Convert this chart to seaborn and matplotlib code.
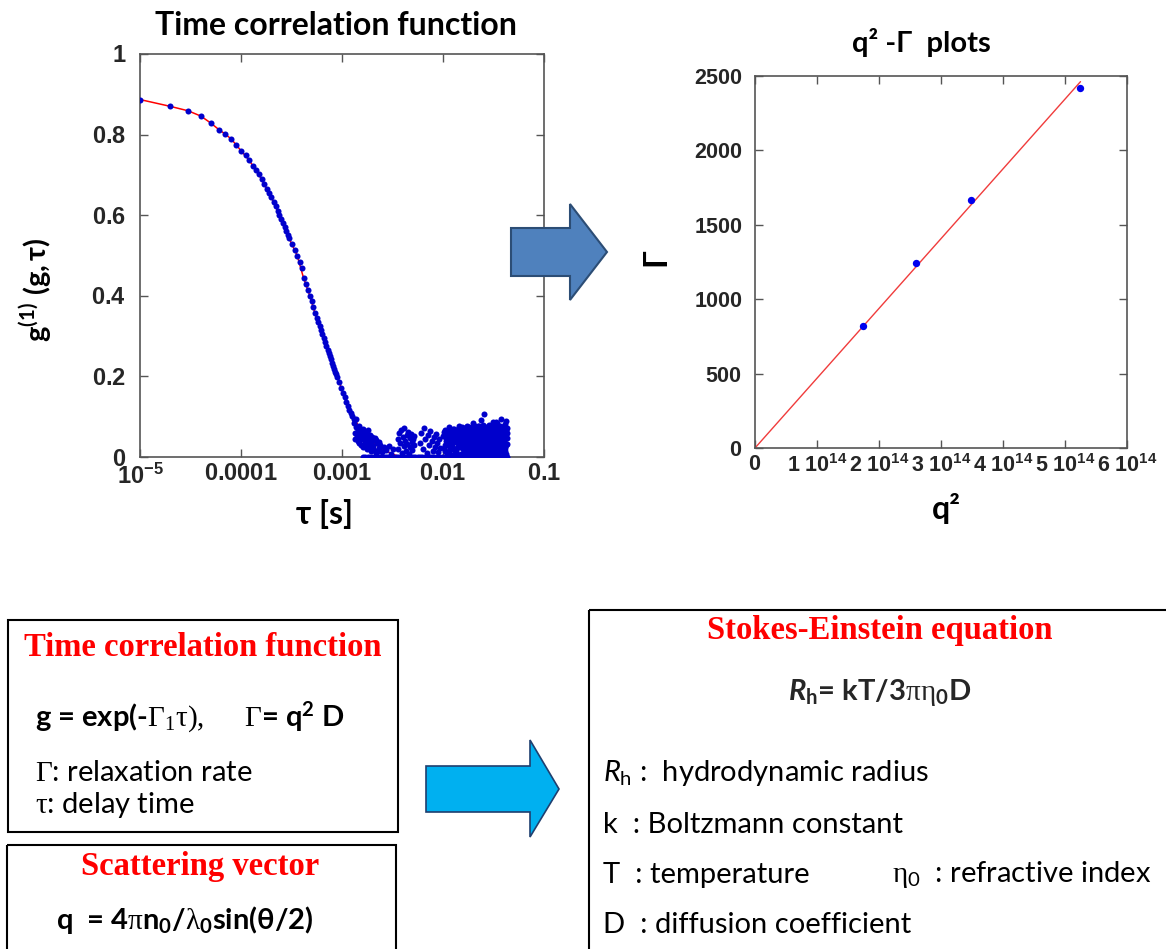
import numpy as np
import seaborn as sns
import matplotlib.pyplot as plt
from matplotlib.patches import Rectangle, Polygon

W, H = 1166, 949

# ---- time correlation function ----
tau_main = [1.0e-5, 2.0e-5, 3.0e-5, 4.0e-5, 5.0e-5, 6.1e-5, 7.0e-5, 7.9e-5, 9.0e-5, 1.0e-4,
            1.11e-4, 1.2e-4, 1.3e-4, 1.4e-4, 1.5e-4, 1.6e-4, 1.7e-4, 1.8e-4, 1.9e-4, 2.0e-4,
            2.1e-4, 2.2e-4, 2.3e-4, 2.4e-4, 2.5e-4, 2.6e-4, 2.7e-4, 2.8e-4, 2.9e-4, 3.0e-4,
            3.2e-4, 3.4e-4, 3.6e-4, 3.8e-4, 4.0e-4, 4.2e-4, 4.4e-4, 4.6e-4, 4.8e-4, 5.0e-4,
            5.2e-4, 5.4e-4, 5.6e-4, 5.8e-4, 6.0e-4, 6.2e-4, 6.4e-4, 6.6e-4, 6.8e-4, 7.0e-4,
            7.2e-4, 7.4e-4, 7.6e-4, 7.8e-4, 8.0e-4, 8.2e-4, 8.4e-4, 8.6e-4, 8.8e-4, 9.0e-4,
            9.4e-4, 9.8e-4, 1.02e-3, 1.06e-3, 1.10e-3, 1.14e-3, 1.18e-3, 1.22e-3, 1.26e-3, 1.30e-3]
g_main = [.887, .870, .859, .846, .829, .812, .801, .790, .774, .760,
          .749, .737, .723, .712, .701, .689, .678, .665, .655, .644,
          .633, .623, .611, .600, .590, .580, .570, .560, .550, .543,
          .528, .514, .500, .484, .468, .445, .430, .415, .400, .386,
          .372, .358, .345, .335, .325, .314, .304, .295, .285, .275,
          .266, .258, .250, .242, .234, .226, .219, .212, .205, .198,
          .185, .172, .160, .148, .137, .127, .117, .108, .102, .095]

# noisy tail, tau in ms
tau_tail_ms = [1.32, 1.35, 1.38, 1.40, 1.43, 1.45, 1.48, 1.50, 1.53, 1.55, 1.58, 1.60, 1.63, 1.66, 1.70,
               1.73, 1.77, 1.80, 1.85, 1.90, 1.95, 2.00, 2.05, 2.10, 2.15, 2.20, 2.30, 2.40, 2.50, 2.60,
               2.75, 2.90, 3.05, 3.20,
               1.34, 1.37, 1.42, 1.47, 1.52, 1.57, 1.62, 1.68, 1.75, 1.82, 1.88, 1.98, 2.08, 2.18, 2.25, 2.35,
               3.55, 3.62, 3.70, 3.78, 3.85, 3.92, 4.00, 4.08, 4.15, 4.22, 4.30, 4.38, 4.45, 4.52, 4.60,
               4.68, 4.75, 4.82, 4.90, 4.98, 5.05, 5.12, 5.20,
               5.9, 6.1, 6.3, 6.5, 6.7, 6.9, 7.1, 7.3, 7.5, 7.7, 7.9, 8.1, 8.3, 8.5, 8.7, 8.9, 9.1, 9.3,
               10.2, 10.5, 10.8, 11.1, 11.4, 11.7, 12.0, 12.3, 12.6, 12.9, 13.2, 13.5, 13.8, 14.1, 14.4,
               14.7, 15.0, 15.3, 15.6, 15.9, 16.2, 16.5, 16.8, 17.1, 17.4, 17.7, 18.0, 18.3, 18.6, 18.9,
               19.2, 19.5, 19.8, 20.1, 20.4, 20.7, 21.0, 21.3, 21.6, 21.9, 22.2, 22.5, 22.8, 23.1, 23.4,
               23.7, 24.0, 24.3, 24.6, 24.9, 25.2, 25.5, 25.8, 26.1, 26.4, 26.7, 27.0, 27.3, 27.6, 27.9,
               28.2, 28.5, 28.8, 29.1, 29.4, 29.7, 30.0, 30.3, 30.6, 30.9, 31.2, 31.5, 31.8, 32.1, 32.4,
               32.7, 33.0, 33.3, 33.6, 33.9, 34.2, 34.5, 34.8, 35.1, 35.4, 35.7, 36.0, 36.3, 36.6, 36.9,
               37.2, 37.5, 37.8, 38.1, 38.4, 38.7, 39.0, 39.3, 39.6, 39.9, 40.2, 40.5, 40.8, 41.1, 41.4,
               41.7, 42.0, 42.3, 42.6, 42.9]
g_tail = [.085, .060, .075, .050, .068, .040, .078, .055, .030, .062, .045, .070, .025, .052, .038,
          .060, .020, .045, .032, .055, .015, .040, .028, .048, .010, .035, .022, .030, .012, .025,
          .018, .028, .008, .020,
          .045, .095, .058, .035, .070, .050, .065, .030, .048, .068, .025, .050, .018, .042, .015, .038,
          .045, .020, .060, .035, .068, .010, .050, .028, .071, .040, .015, .055, .032, .062, .008,
          .048, .025, .058, .038, .018, .045, .030, .052,
          .035, .060, .020, .072, .045, .010, .055, .030, .065, .040, .015, .050, .025, .058, .035, .012, .045, .022,
          .062, .015, .048, .030, .070, .005, .055, .038, .022, .066, .044, .010, .058, .034, .072,
          .026, .050, .003, .064, .040, .018, .056, .032, .068, .012, .046, .074, .028, .060, .036,
          .008, .052, .085, .042, .020, .066, .030, .058, .014, .048, .076, .024, .062, .038, .006,
          .054, .092, .034, .068, .016, .044, .107, .028, .060, .050, .010, .072, .036, .064, .022,
          .046, .080, .030, .056, .004, .070, .040, .062, .018, .052, .088, .026, .058, .034, .074,
          .012, .048, .066, .038, .020, .060, .084, .030, .054, .008, .070, .042, .064, .024, .050,
          .094, .034, .058, .016, .072, .044, .062, .028, .052, .010, .068, .038, .082, .056, .022,
          .066, .046, .090, .032, .060]

# further passes through the dense block beyond 10 ms
tau_dense_ms = [10.35, 10.65, 10.95, 11.25, 11.55, 11.85, 12.15, 12.45, 12.75, 13.05, 13.35, 13.65,
                13.95, 14.25, 14.55, 14.85, 15.15, 15.45, 15.75, 16.05, 16.35, 16.65, 16.95, 17.25,
                17.55, 17.85, 18.15, 18.45, 18.75, 19.05, 19.35, 19.65, 19.95, 20.25, 20.55, 20.85,
                21.15, 21.45, 21.75, 22.05, 22.35, 22.65, 22.95, 23.25, 23.55, 23.85, 24.15, 24.45,
                24.75, 25.05, 25.35, 25.65, 25.95, 26.25, 26.55, 26.85, 27.15, 27.45, 27.75, 28.05,
                28.35, 28.65, 28.95, 29.25, 29.55, 29.85, 30.15, 30.45, 30.75, 31.05, 31.35, 31.65,
                31.95, 32.25, 32.55, 32.85, 33.15, 33.45, 33.75, 34.05, 34.35, 34.65, 34.95, 35.25,
                35.55, 35.85, 36.15, 36.45, 36.75, 37.05, 37.35, 37.65, 37.95, 38.25, 38.55, 38.85,
                39.15, 39.45, 39.75, 40.05, 40.35, 40.65, 40.95, 41.25, 41.55, 41.85, 42.15, 42.45,
                42.75, 43.05,
                10.05, 10.25, 10.45, 10.65, 10.85, 11.05, 11.25, 11.45, 11.65, 11.85, 12.05, 12.25,
                12.45, 12.65, 12.85, 13.05, 13.25, 13.45, 13.65, 13.85, 14.05, 14.25, 14.45, 14.65,
                14.85, 15.05, 15.25, 15.45, 15.65, 15.85, 16.05, 16.25, 16.45, 16.65, 16.85, 17.05,
                17.25, 17.45, 17.65, 17.85, 18.05, 18.25, 18.45, 18.65, 18.85, 19.05, 19.25, 19.45,
                19.65, 19.85, 20.05, 20.25, 20.45, 20.65, 20.85, 21.05, 21.25, 21.45, 21.65, 21.85,
                22.05, 22.25, 22.45, 22.65, 22.85, 23.05, 23.25, 23.45, 23.65, 23.85, 24.05, 24.25,
                24.45, 24.65, 24.85]
g_dense = [.030, .058, .012, .044, .066, .022, .036, .070, .050, .016,
           .040, .064, .026, .048, .004, .060, .034, .074, .020, .052,
           .068, .038, .006, .056, .028, .046, .018, .064, .042, .072,
           .024, .060, .036, .010, .054, .078, .032, .046, .068, .026,
           .058, .004, .050, .070, .030, .042, .014, .062, .080, .040,
           .066, .020, .054, .008, .074, .034, .048, .060, .012, .070,
           .036, .058, .020, .046, .078, .028, .054, .010, .066, .044,
           .024, .072, .050, .006, .062, .040, .086, .030, .056, .016,
           .044, .070, .010, .064, .036, .052, .024, .078, .046, .018,
           .058, .072, .032, .066, .040, .012, .056, .036, .076, .026,
           .042, .064, .016, .052, .070, .030, .058, .008, .048, .072,
           .052, .022, .068, .040, .010, .060, .032, .074, .046, .018,
           .064, .028, .056, .006, .070, .038, .050, .014, .066, .042,
           .024, .058, .076, .034, .048, .008, .062, .030, .054, .072,
           .020, .044, .066, .012, .058, .036, .078, .026, .050, .064,
           .016, .040, .070, .030, .056, .004, .062, .046, .074, .022,
           .036, .068, .052, .010, .060, .028, .044, .072, .018, .056,
           .034, .064, .008, .048, .076, .026, .058, .040, .066, .014,
           .050, .070, .032, .062, .044]

# points sitting on the zero line
tau_base_ms = [1.6, 1.7, 1.8, 1.9, 2.0, 2.1, 2.2, 2.35, 2.5, 2.65, 2.8, 3.0, 3.2, 3.4, 3.6, 3.8, 4.0,
               4.25, 4.5, 4.75, 5.0, 5.3, 5.6, 5.9, 6.2, 6.6, 7.0, 7.4, 7.8, 8.2, 8.7, 9.2, 9.7, 10.2,
               10.8, 11.4, 12.0, 12.7, 13.4, 14.1, 14.9, 15.7, 16.5, 17.4, 18.3, 19.3, 20.3, 21.4,
               22.5, 23.7, 25.0, 26.3, 27.7, 29.2, 30.7, 32.3, 34.0, 35.8, 37.6, 39.5, 41.5, 43.0]
g_base = [0.0] * len(tau_base_ms)

tau_fit = [1e-5, 2e-5, 3e-5, 4e-5, 5e-5, 6e-5, 7e-5, 8e-5, 9e-5, 1.0e-4, 1.2e-4, 1.4e-4, 1.6e-4,
           1.8e-4, 2.0e-4, 2.4e-4, 2.9e-4, 3.6e-4, 4.1e-4, 4.8e-4, 5.5e-4, 6.5e-4, 7.6e-4, 9.0e-4,
           1.05e-3, 1.29e-3, 1.52e-3, 1.94e-3, 2.48e-3, 3.0e-3, 3.43e-3, 3.9e-3]
g_fit = [.887, .870, .859, .846, .829, .813, .801, .789, .774, .760, .737, .712, .689,
         .665, .644, .600, .550, .500, .450, .400, .350, .300, .250, .200,
         .150, .100, .070, .040, .020, .010, .004, .000]

tau_ticks = [1e-5, 1e-4, 1e-3, 1e-2, 1e-1]
tau_ticklabels = ["10^{-5}", "0.0001", "0.001", "0.01", "0.1"]
g_ticks = [0, 0.2, 0.4, 0.6, 0.8, 1]
g_ticklabels = ["0", "0.2", "0.4", "0.6", "0.8", "1"]

# ---- q^2 - Gamma plot ----
q2_pts = [1.744e14, 2.59e14, 3.49e14, 5.24e14]
gamma_pts = [818, 1242, 1666, 2419]
q2_fit = [0, 5.25e14]
gamma_fit = [0, 2462]
q2_ticks = [0, 1e14, 2e14, 3e14, 4e14, 5e14, 6e14]
q2_ticklabels = ["0", "1\\ 10^{14}", "2\\ 10^{14}", "3\\ 10^{14}", "4\\ 10^{14}", "5\\ 10^{14}", "6\\ 10^{14}"]
gamma_ticks = [0, 500, 1000, 1500, 2000, 2500]

sns.set_style("ticks")
plt.rcParams["font.family"] = ["Lato", "DejaVu Sans"]
plt.rcParams.update({
    "mathtext.fontset": "custom",
    "mathtext.rm": "Lato",
    "mathtext.it": "Lato:italic",
    "mathtext.bf": "Lato:bold",
    "mathtext.bfit": "Lato:bold:italic",
    "mathtext.sf": "Liberation Serif",
    "mathtext.tt": "Liberation Sans:bold",
})

fig = plt.figure(figsize=(W / 100, H / 100), dpi=100)


def rect(x0, y0, x1, y1):
    return [x0 / W, 1 - y1 / H, (x1 - x0) / W, (y1 - y0) / H]


def style_axes(ax, pad_x, pad_y, size):
    for s in ax.spines.values():
        s.set_color("#555555")
        s.set_linewidth(1.2)
    ax.tick_params(direction="in", length=6, width=1, color="#555555",
                   top=True, right=True, labelsize=size)
    ax.tick_params(axis="x", pad=pad_x)
    ax.tick_params(axis="y", pad=pad_y)
    ax.set_xlabel("")
    ax.set_ylabel("")


# left: correlation function
ax1 = fig.add_axes(rect(140, 54, 544, 457))
sns.lineplot(x=tau_fit, y=g_fit, color="red", lw=1.1, ax=ax1, sort=False)
tau_all = (tau_main + [t * 1e-3 for t in tau_tail_ms] + [t * 1e-3 for t in tau_dense_ms]
           + [t * 1e-3 for t in tau_base_ms])
g_all = g_main + g_tail + g_dense + g_base
sns.scatterplot(x=tau_all, y=g_all, color="#0000cc", s=19, linewidth=0, ax=ax1, zorder=3)
ax1.set_xscale("log")
ax1.set_xlim(1e-5, 0.1)
ax1.set_ylim(0, 1)
ax1.set_xticks(tau_ticks, ["$\\mathtt{%s}$" % t for t in tau_ticklabels])
ax1.xaxis.set_minor_locator(plt.NullLocator())
ax1.set_yticks(g_ticks, ["$\\mathtt{%s}$" % t for t in g_ticklabels])
style_axes(ax1, 4, 10, 17)

# right: q^2 - Gamma
ax2 = fig.add_axes(rect(755, 76, 1127, 448))
sns.lineplot(x=q2_fit, y=gamma_fit, color="#f03c3c", lw=1.0, ax=ax2)
sns.scatterplot(x=q2_pts, y=gamma_pts, color="#0000ee", s=28, linewidth=0, ax=ax2, zorder=3)
ax2.set_xlim(0, 6e14)
ax2.set_ylim(0, 2500)
ax2.set_xticks(q2_ticks, ["$\\mathtt{%s}$" % t for t in q2_ticklabels])
ax2.set_yticks(gamma_ticks, ["$\\mathtt{%d}$" % t for t in gamma_ticks])
style_axes(ax2, 4, 9, 15.5)

# overlay in pixel coordinates for text, boxes and arrows
ov = fig.add_axes([0, 0, 1, 1])
ov.set_xlim(0, W)
ov.set_ylim(H, 0)
ov.axis("off")
ov.patch.set_visible(False)

bold = dict(fontweight="bold", color="black")
ov.text(336, 25, "Time correlation function", fontsize=23, ha="center", va="center", **bold)
ov.text(325, 514, "τ [s]", fontsize=23, ha="center", va="center", **bold)
ov.text(36, 290, "$\\mathbf{g^{(1)}\\ (g,\\tau)}$", fontsize=21, rotation=90,
        ha="center", va="center", **bold)
ov.text(921, 42, "q² -Γ  plots", fontsize=21, ha="center", va="center", **bold)
ov.text(656, 257, "Γ", fontsize=23, rotation=90, ha="center", va="center", **bold)
ov.text(946, 508, "q²", fontsize=23, ha="center", va="center", **bold)

# arrows
top_arrow = [(511, 228), (570, 228), (570, 204), (607, 252), (570, 300), (570, 276), (511, 276)]
ov.add_patch(Polygon(top_arrow, closed=True, facecolor="#4f81bd", edgecolor="#2c4d75", lw=1.5))
bot_arrow = [(426, 766), (530, 766), (530, 740), (559, 789), (530, 837), (530, 812), (426, 812)]
ov.add_patch(Polygon(bot_arrow, closed=True, facecolor="#00b0f0", edgecolor="#1f3f6f", lw=1.2))

# boxes
for (x0, y0, x1, y1) in [(8, 620, 398, 832), (7, 845, 396, 960), (589, 610, 1175, 960)]:
    ov.add_patch(Rectangle((x0, y0), x1 - x0, y1 - y0, facecolor="none",
                           edgecolor="black", lw=1.5, clip_on=False))

red = dict(fontfamily="Liberation Serif", fontweight="bold", color="#ff0000",
           fontsize=23.5, ha="center", va="center")
body = dict(fontsize=21, ha="left", va="center", color="black")

ov.text(203, 647, "Time correlation function", **red)
ov.text(35, 717, "g = exp(-$\\mathsf{\\Gamma_{1}\\tau),}$     $\\mathsf{\\Gamma}$= q$^{\\mathbf{2}}$ D",
        fontweight="bold", **body)
ov.text(35, 773, "$\\mathsf{\\Gamma}$: relaxation rate", **body)
ov.text(35, 805, "$\\mathsf{\\tau}$: delay time", **body)

ov.text(200, 867, "Scattering vector", **red)
ov.text(56, 920, "q  = 4$\\mathsf{\\pi}$n$_{\\mathbf{0}}$/$\\mathsf{\\lambda}_{\\mathbf{0}}$sin($\\mathbf{\\theta}$/2)",
        fontweight="bold", **body)

ov.text(880, 630, "Stokes-Einstein equation", **red)
ov.text(880, 693, "$\\mathbfit{R}_{\\mathbf{h}}$= kT/3$\\mathsf{\\pi\\eta}_{\\mathbf{0}}$D",
        fontsize=21, fontweight="bold", ha="center", va="center")
ov.text(603, 773, "$\\mathit{R}_{\\mathrm{h}}$ :  hydrodynamic radius", **body)
ov.text(603, 825, "k  : Boltzmann constant", **body)
ov.text(603, 875, "T  : temperature", **body)
ov.text(892, 875, "$\\mathsf{\\eta}_{\\mathrm{0}}$  : refractive index", **body)
ov.text(603, 925, "D  : diffusion coefficient", **body)

fig.savefig("out.png", dpi=100)
